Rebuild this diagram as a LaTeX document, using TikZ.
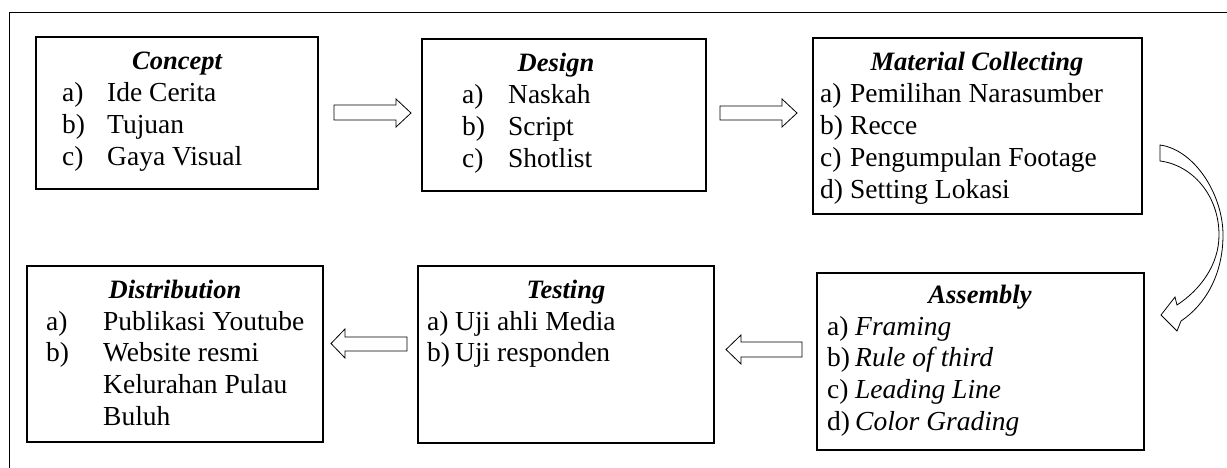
\documentclass[tikz,border=0pt]{standalone}
\usepackage{fontspec}
\setmainfont{Liberation Serif}
\begin{document}
\begin{tikzpicture}[x=1pt,y=-1pt,
  box/.style={draw, line width=1.2pt, inner sep=0pt, outer sep=0pt, anchor=north west},
  ttl/.style={anchor=base, inner sep=0pt, font=\fontsize{26.5}{31.7}\selectfont\bfseries\itshape},
  lst/.style={anchor=base west, inner sep=0pt, font=\fontsize{27.5}{31.7}\selectfont},
  blk/.style={draw, line width=0.8pt, fill=white, line join=miter},
  frame/.style={line width=1pt}
]
\useasboundingbox (0,0) rectangle (1227,468);
% outer frame
\coordinate (f1) at (1227,13);
\coordinate (f2) at (9,13);
\coordinate (f3) at (9,468);
\draw[frame] (f1) -- (f2) -- (f3);

% boxes
\node[box, minimum width=282pt, minimum height=152pt] (concept) at (36,37) {};
\node[box, minimum width=284pt, minimum height=152pt] (design) at (422,39) {};
\node[box, minimum width=329pt, minimum height=176pt] (material) at (813,38) {};
\node[box, minimum width=327pt, minimum height=177pt] (assembly) at (817,273) {};
\node[box, minimum width=296pt, minimum height=177pt] (testing) at (418,266) {};
\node[box, minimum width=296pt, minimum height=176pt] (distribution) at (27,266) {};

% Concept
\node[ttl] (t1) at (177,70) {Concept};
\node[lst] (l1) at (62,102) {\begin{tabular}[t]{@{}p{45pt}@{}l@{}}a) & Ide Cerita\\ b) & Tujuan\\ c) & Gaya Visual\end{tabular}};
% Design
\node[ttl] (t2) at (556,72) {Design};
\node[lst] (l2) at (462,104) {\begin{tabular}[t]{@{}p{46pt}@{}l@{}}a) & Naskah\\ b) & Script\\ c) & Shotlist\end{tabular}};
% Material
\node[ttl] (t3) at (977,71) {Material Collecting};
\node[lst] (l3) at (820,103) {\begin{tabular}[t]{@{}p{30pt}@{}l@{}}a) & Pemilihan Narasumber\\ b) & Recce\\ c) & Pengumpulan Footage\\ d) & Setting Lokasi\end{tabular}};
% Assembly
\node[ttl] (t4) at (980,303) {Assembly};
\node[lst] (l4) at (827,335) {\begin{tabular}[t]{@{}p{28pt}@{}l@{}}a) & \itshape Framing\\ b) & \itshape Rule of third\\ c) & \itshape Leading Line\\ d) & \itshape Color Grading\end{tabular}};
% Testing
\node[ttl] (t5) at (566,298) {Testing};
\node[lst] (l5) at (427,330) {\begin{tabular}[t]{@{}p{28pt}@{}l@{}}a) & Uji ahli Media\\ b) & Uji responden\end{tabular}};
% Distribution
\node[ttl] (t6) at (175,298) {Distribution};
\node[lst] (l6) at (46,330) {\begin{tabular}[t]{@{}p{57pt}@{}l@{}}a) & Publikasi Youtube\\ b) & Website resmi\\ & Kelurahan Pulau\\ & Buluh\end{tabular}};

% block arrows
\draw[blk] (334,105) -- (396,105) -- (396,99) -- (411,113) -- (396,127) -- (396,120) -- (334,120) -- cycle;
\draw[blk] (720,106) -- (782,106) -- (782,99) -- (797,113) -- (782,127) -- (782,120) -- (720,120) -- cycle;
\draw[blk] (802,342) -- (741,342) -- (741,335) -- (726,349.5) -- (741,364) -- (741,357) -- (802,357) -- cycle;
\draw[blk] (407,337) -- (345,337) -- (345,329) -- (331,343.5) -- (345,358) -- (345,351) -- (407,351) -- cycle;

% curved arrow
\draw[blk] (1160,145) .. controls (1195,150) and (1223,195) .. (1223,235)
  .. controls (1223,275) and (1205,305) .. (1181,321) -- (1177,331) -- (1161,315)
  -- (1175,297) -- (1177,305) .. controls (1200,290) and (1219,265) .. (1219,235)
  .. controls (1219,195) and (1192,165) .. (1160,161) -- cycle;
\end{tikzpicture}
\end{document}
